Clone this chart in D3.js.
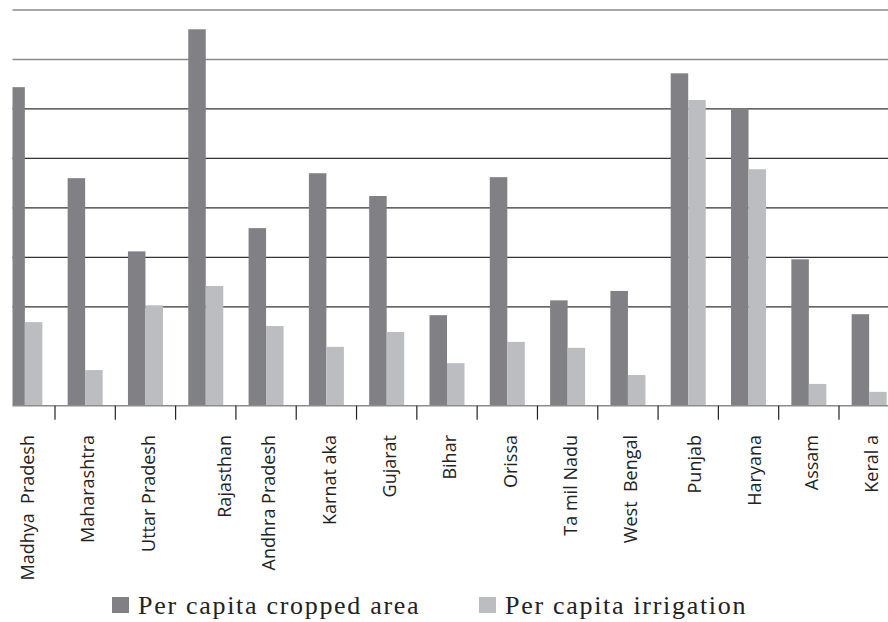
<!DOCTYPE html>
<html>
<head>
<meta charset="utf-8">
<script src="https://cdn.jsdelivr.net/npm/d3@7"></script>
<style>
  html, body { margin: 0; padding: 0; background: #fff; }
  svg { display: block; }
  text { white-space: pre; }
</style>
</head>
<body>
<svg id="chart" width="888" height="622"></svg>
<script>
const categories = ["Madhya  Pradesh", "Maharashtra", "Uttar Pradesh", "Rajasthan", "Andhra Pradesh",
  "Karnat aka", "Gujarat", "Bihar", "Orissa", "Ta mil Nadu", "West  Bengal", "Punjab", "Haryana", "Assam", "Keral a"];
const seriesNames = ["Per capita cropped area", "Per capita irrigation"];
const croppedArea = [6.44, 4.60, 3.12, 7.61, 3.59, 4.70, 4.24, 1.83, 4.62, 2.13, 2.32, 6.72, 6.01, 2.96, 1.85];
const irrigation  = [1.69, 0.72, 2.03, 2.42, 1.61, 1.19, 1.49, 0.86, 1.29, 1.17, 0.62, 6.18, 4.78, 0.44, 0.28];
const gridValues = [2, 3, 4, 5, 6, 7, 8];
const colors = ["#818185", "#bcbdc0"];

const svg = d3.select("#chart");
const plotLeft = 12.5, plotRight = 888;

const x0 = d3.scaleBand().domain(categories).range([-5.31, 899.3]).padding(0);
const bw = x0.bandwidth();
const x1 = d3.scaleBand().domain(seriesNames).range([12.65, bw - 12.65]).padding(0);
const y = d3.scaleLinear().domain([0, 8]).range([405.7, 10]);

svg.append("defs").append("clipPath").attr("id", "plotclip")
  .append("rect").attr("x", plotLeft).attr("y", 0).attr("width", plotRight - plotLeft).attr("height", 406);

// gridlines
svg.append("g").selectAll("line").data(gridValues).join("line")
  .attr("x1", plotLeft).attr("x2", plotRight)
  .attr("y1", d => y(d)).attr("y2", d => y(d))
  .attr("stroke", d => d >= 7 ? "#8a8a8a" : "#333")
  .attr("stroke-width", d => d >= 7 ? 1.6 : 1.3);

// bars
const data = categories.map((c, i) => ({ c, vals: [croppedArea[i], irrigation[i]] }));
const g = svg.append("g").attr("clip-path", "url(#plotclip)");
g.selectAll("g").data(data).join("g")
  .attr("transform", d => `translate(${x0(d.c)},0)`)
  .selectAll("rect").data(d => d.vals.map((v, j) => ({ s: seriesNames[j], v, j })))
  .join("rect")
  .attr("x", d => x1(d.s)).attr("width", x1.bandwidth())
  .attr("y", d => y(d.v)).attr("height", d => y(0) - y(d.v))
  .attr("fill", d => colors[d.j]);

// baseline
svg.append("line").attr("x1", plotLeft).attr("x2", plotRight)
  .attr("y1", y(0)).attr("y2", y(0)).attr("stroke", "#8c8c8c").attr("stroke-width", 1.5);

// ticks at band boundaries
const boundaries = categories.slice(1).map(c => x0(c));
svg.append("g").selectAll("line").data(boundaries).join("line")
  .attr("x1", d => d).attr("x2", d => d)
  .attr("y1", y(0)).attr("y2", y(0) + 14)
  .attr("stroke", "#222").attr("stroke-width", 1.2);

// category labels
svg.append("g").selectAll("text").data(categories).join("text")
  .attr("transform", (d, i) => {
    let cx = x0(d) + bw / 2 + 3;
    if (i === 3) cx += 16;
    if (i === 11 || i === 12) cx += 3;
    return `translate(${cx},435) rotate(-90)`;
  })
  .attr("text-anchor", "end")
  .attr("dy", "0.35em")
  .attr("font-family", "'Open Sans', sans-serif")
  .attr("font-size", 18)
  .attr("fill", "#222")
  .text(d => d);

// legend
const legendX = [112, 479];
const lg = svg.append("g").selectAll("g").data(seriesNames).join("g")
  .attr("transform", (d, i) => `translate(${legendX[i]},597)`);
lg.append("rect").attr("width", 17).attr("height", 16).attr("fill", (d, i) => colors[i]);
lg.append("text").attr("x", 26).attr("y", 17)
  .attr("font-family", "'Liberation Serif', serif")
  .attr("font-size", 26)
  .attr("letter-spacing", 1.7)
  .attr("fill", "#222")
  .text(d => d);
</script>
</body>
</html>
